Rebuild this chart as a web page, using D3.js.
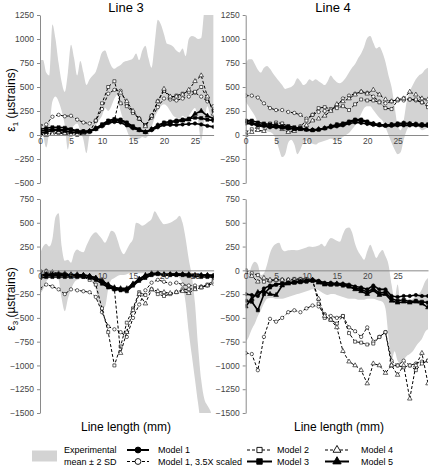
<!DOCTYPE html>
<html><head><meta charset="utf-8">
<script src="https://cdn.jsdelivr.net/npm/d3@7"></script>
<style>
body{margin:0;background:#fff;}
text{font-family:Arial,"Liberation Sans",sans-serif;}
</style>
</head><body>
<svg id="c" width="431" height="466"></svg>
<script>
// ---------- DATA ----------
const xLeft  = [0,1,2,3,4,5,6,7,8,9,10,11,12,13,14,15,16,17,18,19,20,21,22,23,24,25,26,27,28];
const xRight = [0,1,2,3,4,5,6,7,8,9,10,11,12,13,14,15,16,17,18,19,20,21,22,23,24,25,26,27,28,29,30];
const bandXLeft  = [0,0.5,1,1.5,2,2.5,3,3.5,4,4.5,5,5.5,6,6.5,7,7.5,8,8.5,9,9.5,10,10.5,11,11.5,12,12.5,13,13.5,14,14.5,15,15.5,16,16.5,17,17.5,18,18.5,19,19.5,20,20.5,21,21.5,22,22.5,23,23.5,24,24.5,25,25.5,26,26.5,27,27.5,28];
const bandXRight = [0,0.5,1,1.5,2,2.5,3,3.5,4,4.5,5,5.5,6,6.5,7,7.5,8,8.5,9,9.5,10,10.5,11,11.5,12,12.5,13,13.5,14,14.5,15,15.5,16,16.5,17,17.5,18,18.5,19,19.5,20,20.5,21,21.5,22,22.5,23,23.5,24,24.5,25,25.5,26,26.5,27,27.5,28,28.5,29,29.5,30];

const xTicks = [0,5,10,15,20,25];
const yTicksTop = [1250,1000,750,500,250,0,-250,-500];
const yTicksBottom = [750,500,250,0,-250,-500,-750,-1000,-1250,-1500];

const panelTitles = ["Line 3","Line 4"];
const seriesNames = ["Model 1","Model 1, 3.5X scaled","Model 2","Model 3","Model 4","Model 5"];

// Line 3, eps1 (top-left)
const l3e1Up = [780,780,650,620,1150,1000,750,550,450,650,940,800,620,770,650,520,580,620,660,760,860,880,800,720,690,710,730,760,770,780,800,850,780,880,930,800,700,950,1200,1150,1050,950,940,920,880,860,900,820,1000,1030,1020,1000,1010,1300,1400,1400,1400];
const l3e1Lo = [100,0,-130,50,350,400,350,250,100,-150,50,100,120,50,-50,-190,0,50,100,150,200,280,250,300,380,420,250,150,50,-20,-40,-50,-40,-20,-30,0,80,180,250,300,320,300,250,200,180,170,200,180,200,250,280,150,-60,150,300,200,150];
const l3e1M1  = [40,50,60,60,55,55,40,35,35,60,90,125,135,130,100,70,50,30,50,80,105,105,105,110,115,120,110,95,85];
const l3e1M1x = [100,110,190,210,195,200,160,130,120,150,270,430,470,460,330,240,170,100,180,290,380,370,360,380,400,440,400,350,300];
const l3e1M2  = [0,10,20,20,10,5,0,10,30,150,330,500,560,330,300,230,170,100,200,350,460,390,410,430,450,450,500,380,250];
const l3e1M3  = [60,70,80,80,75,60,45,40,40,70,110,150,165,160,130,90,60,30,60,100,130,140,150,160,170,180,175,160,150];
const l3e1M4  = [10,0,10,30,20,10,10,20,40,60,100,130,150,440,350,250,170,90,200,350,480,400,400,420,470,560,620,400,220];
const l3e1M5  = [20,30,50,50,40,30,30,30,40,70,100,140,150,150,120,80,50,30,60,100,120,130,140,150,160,220,250,200,170];

// Line 4, eps1 (top-right)
const l4e1Up = [740,790,790,740,680,650,700,720,690,640,600,560,520,480,490,500,530,590,560,520,540,580,560,580,560,540,520,560,620,580,550,540,560,600,650,700,740,800,850,920,1010,1030,960,900,920,860,760,620,500,300,100,50,150,350,450,520,580,620,640,680,700];
const l4e1Lo = [350,300,250,200,130,80,50,40,30,10,-50,-150,-230,-200,-80,-50,-100,-200,-150,-80,-60,-80,-90,-100,-80,-70,-60,-50,-40,-50,-60,-40,-20,0,20,60,100,160,220,280,300,300,260,220,180,150,80,0,-80,-150,-200,-180,-50,50,100,130,120,80,50,60,80];
const l4e1M1  = [120,115,100,95,80,80,75,70,70,65,55,55,60,70,80,90,100,120,130,125,115,105,100,95,95,100,100,100,100,95,95];
const l4e1M1x = [410,410,390,330,280,260,260,240,230,210,170,210,240,250,260,300,380,410,430,450,440,400,350,330,350,370,360,370,360,340,320];
const l4e1M2  = [30,60,80,100,120,130,120,90,70,90,150,210,280,290,270,280,300,260,320,370,360,360,340,280,270,360,380,370,370,340,290];
const l4e1M3  = [150,150,130,120,110,100,90,90,80,70,60,50,55,70,90,110,120,140,160,160,140,120,110,100,110,120,125,120,115,110,110];
const l4e1M4  = [0,30,50,40,90,110,60,30,40,80,100,150,170,200,250,320,350,380,420,450,430,470,420,370,350,370,380,450,420,380,370];
const l4e1M5  = [140,130,110,100,90,90,80,70,60,60,55,50,60,70,90,100,110,130,150,150,130,115,105,100,105,110,120,115,110,105,100];

// Line 3, eps3 (bottom-left)
const l3e3Up = [170,250,280,250,330,560,600,250,100,110,80,180,220,200,190,260,330,380,400,370,330,290,350,415,400,320,220,170,220,280,330,500,490,470,485,510,540,620,575,520,485,490,500,520,540,575,500,330,115,-60,-350,-800,-1150,-1350,-1420,-1480,-1600];
const l3e3Lo = [-250,-200,-120,-80,-60,-50,-100,-300,-430,-300,-200,-130,-100,-90,-80,-80,-100,-130,-200,-350,-400,-380,-200,-100,-80,-60,-50,-50,-40,-30,-30,-30,-30,-30,-30,-30,-20,-20,-20,-20,-20,-30,-40,-40,-50,-80,-150,-350,-650,-900,-1150,-1400,-1600,-1600,-1600,-1600,-1600];
const l3e3M1  = [-60,-50,-50,-50,-50,-50,-50,-50,-60,-80,-120,-170,-190,-200,-200,-150,-100,-60,-40,-30,-40,-40,-40,-40,-50,-50,-50,-50,-50];
const l3e3M1x = [-190,-150,-170,-200,-250,-200,-210,-220,-230,-280,-440,-590,-620,-650,-700,-500,-360,-210,-130,-100,-120,-140,-130,-150,-160,-160,-170,-160,-140];
const l3e3M2  = [-20,-10,-30,-40,-40,-50,-60,-70,-100,-150,-400,-650,-1000,-800,-550,-400,-230,-260,-200,-250,-270,-250,-230,-200,-200,-190,-180,-150,-110];
const l3e3M3  = [-80,-70,-70,-70,-70,-70,-70,-70,-80,-100,-140,-180,-200,-210,-220,-160,-110,-80,-50,-40,-50,-50,-50,-50,-60,-60,-70,-70,-70];
const l3e3M4  = [0,-10,-20,-30,-30,-40,-40,-50,-60,-80,-100,-150,-200,-870,-650,-420,-250,-350,-200,-220,-230,-240,-230,-220,-240,-200,-180,-160,-120];
const l3e3M5  = [-50,-40,-40,-40,-40,-50,-50,-50,-60,-80,-110,-150,-180,-190,-190,-140,-90,-50,-30,-30,-40,-40,-40,-40,-40,-50,-50,-50,-60];

// Line 4, eps3 (bottom-right)
const l4e3Up = [-100,-50,50,90,60,-50,-30,60,180,250,280,290,220,200,210,215,215,210,220,230,240,250,245,250,260,280,250,300,340,330,310,300,380,440,450,400,280,200,150,110,200,270,200,130,180,215,150,60,-150,-300,-150,-350,-280,-300,-320,-300,-270,-250,-200,-120,-80];
const l4e3Lo = [-750,-700,-620,-560,-480,-420,-350,-300,-290,-290,-300,-300,-300,-290,-280,-270,-260,-250,-240,-230,-220,-210,-200,-200,-210,-230,-250,-260,-250,-250,-260,-270,-280,-290,-300,-300,-300,-310,-310,-310,-300,-300,-300,-310,-320,-330,-400,-700,-950,-850,-950,-980,-940,-900,-880,-850,-800,-760,-720,-650,-620];
const l4e3M1  = [-250,-260,-270,-190,-160,-150,-140,-130,-120,-115,-110,-100,-110,-130,-130,-140,-140,-150,-170,-180,-200,-160,-200,-200,-270,-280,-270,-270,-260,-270,-270];
const l4e3M1x = [-870,-880,-1050,-700,-510,-540,-500,-440,-420,-440,-400,-370,-380,-460,-480,-500,-480,-600,-640,-700,-600,-750,-700,-650,-950,-1000,-950,-1000,-980,-960,-950];
const l4e3M2  = [0,-30,-50,-120,-110,-100,-100,-100,-90,-90,-90,-100,-350,-500,-520,-560,-480,-660,-750,-760,-780,-770,-700,-650,-1000,-1000,-1020,-1000,-1050,-980,-950];
const l4e3M3  = [-320,-330,-420,-250,-180,-150,-140,-130,-130,-125,-120,-110,-120,-140,-150,-150,-160,-170,-190,-200,-230,-190,-240,-230,-300,-320,-310,-330,-320,-330,-340];
const l4e3M4  = [-20,-60,-120,-80,-100,-100,-100,-100,-100,-100,-100,-110,-300,-480,-520,-600,-850,-960,-1000,-1050,-1190,-980,-1000,-1080,-1000,-1100,-1000,-1350,-1000,-870,-1190];
const l4e3M5  = [-380,-300,-230,-220,-250,-260,-160,-140,-130,-120,-110,-100,-130,-150,-150,-140,-150,-170,-200,-220,-250,-210,-260,-250,-320,-340,-330,-340,-330,-350,-390];

// ---------- STYLE ----------
const svg = d3.select('#c');
const BAND = '#d3d3d3';
const styles = [
  {dash:null,  sym:d3.symbolCircle,   size:9,  fill:'#000', w:1.6},
  {dash:'3,2', sym:d3.symbolCircle,   size:9,  fill:'#fff', w:1},
  {dash:'3,2', sym:d3.symbolSquare,   size:9,  fill:'#fff', w:1},
  {dash:null,  sym:d3.symbolSquare,   size:10, fill:'#000', w:1.6},
  {dash:'3,2', sym:d3.symbolTriangle, size:9,  fill:'#fff', w:1},
  {dash:null,  sym:d3.symbolTriangle, size:10, fill:'#000', w:1.6}
];
const drawOrder = [1,2,4,0,3,5];

const panels = [
  {key:'a', left:40,    right:213.6, top:15,  bottom:183, xd:[0,28], yd:[-500,1250], yt:yTicksTop,    xs:xLeft,  bx:bandXLeft,  up:l3e1Up, lo:l3e1Lo, ser:[l3e1M1,l3e1M1x,l3e1M2,l3e1M3,l3e1M4,l3e1M5]},
  {key:'b', left:245.7, right:428,   top:15,  bottom:183, xd:[0,30], yd:[-500,1250], yt:yTicksTop,    xs:xRight, bx:bandXRight, up:l4e1Up, lo:l4e1Lo, ser:[l4e1M1,l4e1M1x,l4e1M2,l4e1M3,l4e1M4,l4e1M5]},
  {key:'c', left:40,    right:213.6, top:199, bottom:413, xd:[0,28], yd:[-1500,750], yt:yTicksBottom, xs:xLeft,  bx:bandXLeft,  up:l3e3Up, lo:l3e3Lo, ser:[l3e3M1,l3e3M1x,l3e3M2,l3e3M3,l3e3M4,l3e3M5]},
  {key:'d', left:245.7, right:428,   top:199, bottom:413, xd:[0,30], yd:[-1500,750], yt:yTicksBottom, xs:xRight, bx:bandXRight, up:l4e3Up, lo:l4e3Lo, ser:[l4e3M1,l4e3M1x,l4e3M2,l4e3M3,l4e3M4,l4e3M5]}
];

const fmt = d3.format('d');

panels.forEach(p => {
  const x = d3.scaleLinear().domain(p.xd).range([p.left, p.right]);
  const y = d3.scaleLinear().domain(p.yd).range([p.bottom, p.top]);
  const clipId = 'clip-' + p.key;
  svg.append('clipPath').attr('id', clipId).append('rect')
    .attr('x', p.left).attr('y', p.top).attr('width', p.right - p.left).attr('height', p.bottom - p.top);
  const g = svg.append('g');
  const plot = g.append('g').attr('clip-path', `url(#${clipId})`);

  const area = d3.area()
    .x((d, i) => x(p.bx[i]))
    .y0((d, i) => y(p.lo[i]))
    .y1((d, i) => y(p.up[i]))
    .curve(d3.curveMonotoneX);
  plot.append('path').datum(p.up).attr('d', area).attr('fill', BAND);

  const ya = g.append('g').attr('transform', `translate(${p.left},0)`)
    .call(d3.axisLeft(y).tickValues(p.yt).tickSize(3).tickSizeOuter(0).tickFormat(fmt));
  const xa = g.append('g').attr('transform', `translate(0,${y(0)})`)
    .call(d3.axisBottom(x).tickValues(xTicks).tickSize(0).tickSizeOuter(0).tickPadding(3).tickFormat(fmt));
  [ya, xa].forEach(a => {
    a.select('.domain').attr('stroke', '#8a8a8a').attr('stroke-width', 1);
    a.selectAll('.tick line').attr('stroke', '#8a8a8a');
    a.selectAll('text').attr('fill', '#444').attr('font-size', '8.5px')
      .attr('font-family', 'Arial, "Liberation Sans", sans-serif');
  });

  drawOrder.forEach(si => {
    const st = styles[si];
    const vals = p.ser[si];
    const line = d3.line().x((d, i) => x(p.xs[i])).y(d => y(d));
    plot.append('path').datum(vals).attr('d', line)
      .attr('fill', 'none').attr('stroke', '#000').attr('stroke-width', st.w)
      .attr('stroke-dasharray', st.dash);
    plot.selectAll(null).data(vals).enter().append('path')
      .attr('d', d3.symbol().type(st.sym).size(st.size))
      .attr('transform', (d, i) => `translate(${x(p.xs[i])},${y(d)})`)
      .attr('fill', st.fill).attr('stroke', '#000').attr('stroke-width', 0.6);
  });
});

svg.append('text').attr('x', 126).attr('y', 12).attr('text-anchor', 'middle').attr('font-size', '13px').text(panelTitles[0]);
svg.append('text').attr('x', 333).attr('y', 12).attr('text-anchor', 'middle').attr('font-size', '13px').text(panelTitles[1]);

function yLabel(cy, sub) {
  const t = svg.append('text').attr('transform', `translate(15,${cy}) rotate(-90)`)
    .attr('text-anchor', 'middle').attr('font-size', '12px');
  t.append('tspan').text('ε');
  t.append('tspan').attr('font-size', '8px').attr('dy', 3).text(sub);
  t.append('tspan').attr('dy', -3).text(' (µstrains)');
}
yLabel(100, '1');
yLabel(299, '3');

svg.append('text').attr('x', 126).attr('y', 431).attr('text-anchor', 'middle').attr('font-size', '12px').text('Line length (mm)');
svg.append('text').attr('x', 339).attr('y', 431).attr('text-anchor', 'middle').attr('font-size', '12px').text('Line length (mm)');

const lg = svg.append('g');
lg.append('rect').attr('x', 32).attr('y', 450.5).attr('width', 25).attr('height', 11).attr('fill', BAND);
lg.append('text').attr('x', 64).attr('y', 453).attr('font-size', '9px').text('Experimental');
lg.append('text').attr('x', 64).attr('y', 464.5).attr('font-size', '9px').text('mean ± 2 SD');
const legPos = [
  {x0:127, x1:149, y:450,   tx:158},
  {x0:127, x1:149, y:461.5, tx:158},
  {x0:247, x1:272, y:450,   tx:277},
  {x0:247, x1:272, y:461.5, tx:277},
  {x0:325, x1:349, y:450,   tx:361},
  {x0:325, x1:349, y:461.5, tx:361}
];
seriesNames.forEach((name, i) => {
  const st = styles[i], lp = legPos[i];
  lg.append('line').attr('x1', lp.x0).attr('x2', lp.x1).attr('y1', lp.y).attr('y2', lp.y)
    .attr('stroke', '#000').attr('stroke-width', st.w === 1 ? 1.2 : 2).attr('stroke-dasharray', st.dash);
  lg.append('path').attr('d', d3.symbol().type(st.sym).size(st.size * 3)())
    .attr('transform', `translate(${(lp.x0 + lp.x1) / 2},${lp.y})`)
    .attr('fill', st.fill).attr('stroke', '#000').attr('stroke-width', 0.9);
  lg.append('text').attr('x', lp.tx).attr('y', lp.y + 3).attr('font-size', '9px').text(name);
});
</script>
</body></html>
